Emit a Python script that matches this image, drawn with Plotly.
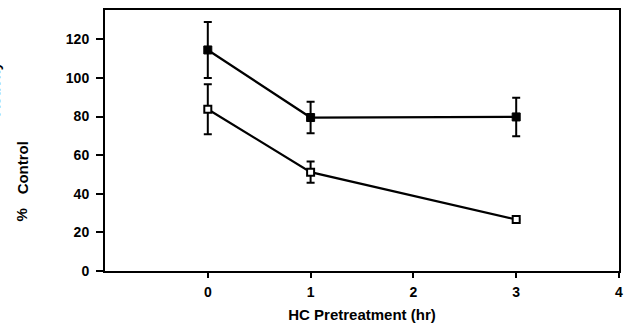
import plotly.graph_objects as go

hours = [0, 1, 3]
treated = [114.5, 79.5, 79.8]
treated_err = [14.5, 8.2, 10.0]
control = [83.8, 51.2, 26.7]
control_err = [13.0, 5.5, 0.0]

x_ticks = [0, 1, 2, 3, 4]
y_ticks = [0, 20, 40, 60, 80, 100, 120]
y_title_words = ["%", "Control", "Activity"]
y_title_pos = [0.2165, 0.397, 0.701]
y_title_shift = [0, 0, -28]

fig = go.Figure()
fig.add_trace(go.Scatter(
    x=hours, y=control, mode="lines+markers",
    line=dict(color="black", width=2.2),
    marker=dict(symbol="square", size=7, color="white", line=dict(color="black", width=2)),
    error_y=dict(type="data", array=control_err, visible=True, color="black", thickness=2, width=4),
    showlegend=False,
))
fig.add_trace(go.Scatter(
    x=hours, y=treated, mode="lines+markers",
    line=dict(color="black", width=2.2),
    marker=dict(symbol="square", size=8, color="black", line=dict(color="black", width=1)),
    error_y=dict(type="data", array=treated_err, visible=True, color="black", thickness=2, width=4),
    showlegend=False,
))

font = dict(family="Liberation Sans, Arial, sans-serif", color="black", size=14)
fig.update_layout(
    width=627, height=327,
    margin=dict(l=105, r=8, t=10, b=56),
    paper_bgcolor="white", plot_bgcolor="white",
    font=font,
    xaxis=dict(
        range=[-1, 4], tickvals=x_ticks, ticktext=[f"<b>{v}</b>" for v in x_ticks],
        ticks="outside", ticklen=5, tickwidth=2, tickcolor="black",
        showline=True, linecolor="black", linewidth=2, mirror=True,
        showgrid=False, zeroline=False, automargin=False,
        ticklabeloverflow="allow",
        title=dict(text="<b>HC Pretreatment (hr)</b>", standoff=11, font=dict(size=15)),
        ticklabelstandoff=2,
    ),
    yaxis=dict(
        range=[0, 135.2], tickvals=y_ticks, ticktext=[f"<b>{v}</b>" for v in y_ticks],
        ticks="outside", ticklen=7, tickwidth=2, tickcolor="black",
        showline=True, linecolor="black", linewidth=2, mirror=True,
        showgrid=False, zeroline=False, automargin=False,
        ticklabelstandoff=4,
    ),
    annotations=[dict(
        text=f"<b>{w}</b>",
        xref="paper", yref="paper", x=-0.1615, y=p, xshift=s,
        xanchor="center", yanchor="middle", textangle=-90,
        showarrow=False, font=dict(size=15),
    ) for w, p, s in zip(y_title_words, y_title_pos, y_title_shift)],
)

fig.write_html("out.html", config={"displayModeBar": False},
               post_script="document.body.style.margin='0';document.body.style.padding='0';")
